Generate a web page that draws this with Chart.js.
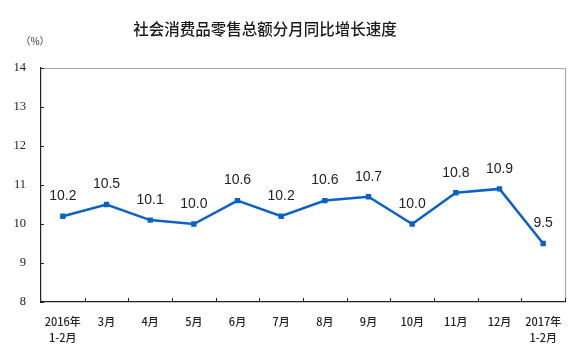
<!DOCTYPE html>
<html>
<head>
<meta charset="utf-8">
<script src="https://cdn.jsdelivr.net/npm/chart.js@4"></script>
<style>
html,body{margin:0;padding:0;background:#fff;}
#wrap{width:576px;height:357px;position:relative;}
</style>
</head>
<body>
<div id="wrap"><canvas id="c" width="576" height="357"></canvas></div>
<script>
const categories = [
  ["2016年","1-2月"],"3月","4月","5月","6月","7月","8月","9月","10月","11月","12月",["2017年","1-2月"]
];
const growthValues = [10.2,10.5,10.1,10.0,10.6,10.2,10.6,10.7,10.0,10.8,10.9,9.5];
const yTicks = [8,9,10,11,12,13,14];
const titleText = "社会消费品零售总额分月同比增长速度";
const unitText = "（%）";

const lineColor = "#0a62c9";

const decorPlugin = {
  id: "decor",
  beforeDraw(chart) {
    const ctx = chart.ctx;
    ctx.save();
    ctx.fillStyle = "#fff";
    ctx.fillRect(0, 0, chart.width, chart.height);
    ctx.restore();
  },
  afterDraw(chart) {
    const ctx = chart.ctx;
    const a = chart.chartArea;
    const xs = chart.scales.x, ys = chart.scales.y;
    ctx.save();
    // top and right frame
    ctx.strokeStyle = "#a8a8a8";
    ctx.lineWidth = 1.2;
    ctx.beginPath();
    ctx.moveTo(a.left, a.top + 0.5);
    ctx.lineTo(a.right + 0.5, a.top + 0.5);
    ctx.lineTo(a.right + 0.5, a.bottom);
    ctx.stroke();
    // inner tick marks
    ctx.strokeStyle = "#222";
    ctx.lineWidth = 1;
    ctx.beginPath();
    for (let i = 1; i <= categories.length; i++) {
      const x = Math.round(xs.getPixelForValue(i - 0.5)) + 0.5;
      ctx.moveTo(x, a.bottom);
      ctx.lineTo(x, a.bottom - 4);
    }
    yTicks.forEach(v => {
      const y = Math.round(ys.getPixelForValue(v)) + 0.5;
      ctx.moveTo(a.left, y);
      ctx.lineTo(a.left + 3, y);
    });
    ctx.stroke();
    // title
    ctx.fillStyle = "#1a1a1a";
    ctx.font = "500 15.5px 'Noto Sans CJK SC'";
    ctx.textAlign = "center";
    ctx.textBaseline = "middle";
    ctx.fillText(titleText, 265, 29);
    // unit
    ctx.fillStyle = "#333";
    ctx.font = "10px 'Noto Sans CJK SC'";
    ctx.fillText(unitText, 35, 41);
    ctx.restore();
  },
  afterDatasetsDraw(chart) {
    const ctx = chart.ctx;
    const meta = chart.getDatasetMeta(0);
    ctx.save();
    ctx.fillStyle = "#222";
    ctx.font = "14px 'Liberation Sans', Arial, sans-serif";
    ctx.textAlign = "center";
    ctx.textBaseline = "middle";
    meta.data.forEach((pt, i) => {
      ctx.fillText(growthValues[i].toFixed(1), pt.x, pt.y - 20);
    });
    ctx.restore();
  }
};

new Chart(document.getElementById("c"), {
  type: "line",
  data: {
    labels: categories,
    datasets: [{
      data: growthValues,
      borderColor: lineColor,
      backgroundColor: lineColor,
      borderWidth: 2.5,
      tension: 0,
      pointStyle: "rect",
      pointRadius: 3.8,
      pointHoverRadius: 3.8,
      pointBorderWidth: 0,
      fill: false
    }]
  },
  options: {
    responsive: false,
    animation: false,
    events: [],
    layout: { padding: { top: 68, right: 11, left: 0, bottom: 0 } },
    plugins: {
      legend: { display: false },
      title: { display: false },
      tooltip: { enabled: false }
    },
    scales: {
      x: {
        offset: true,
        grid: { display: false, drawTicks: false },
        border: { display: true, color: "#222", width: 1.2 },
        ticks: {
          autoSkip: false,
          maxRotation: 0,
          padding: 12,
          color: "#222",
          font: { family: "'Noto Sans CJK SC'", size: 11, weight: "500", lineHeight: 1.45 }
        },
        afterFit(s) { s.height = 55; }
      },
      y: {
        min: 8,
        max: 14,
        grid: { display: false, drawTicks: false },
        border: { display: true, color: "#222", width: 1.2 },
        afterBuildTicks(s) { s.ticks = yTicks.map(v => ({ value: v })); },
        ticks: {
          padding: 15,
          color: "#222",
          font: { family: "'Liberation Serif', serif", size: 12.5 }
        },
        afterFit(s) { s.width = 41; }
      }
    }
  },
  plugins: [decorPlugin]
});
</script>
</body>
</html>
